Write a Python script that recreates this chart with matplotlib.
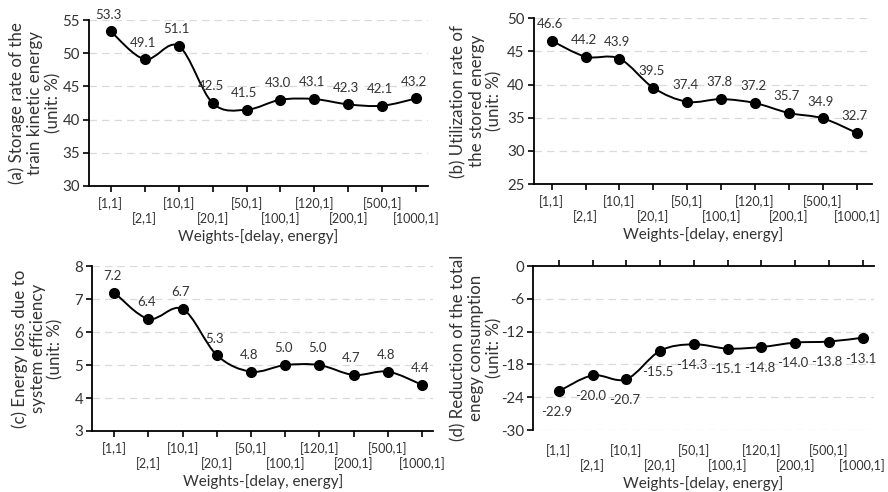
import numpy as np
import matplotlib.pyplot as plt
from matplotlib.path import Path
from matplotlib.patches import PathPatch

# weights [delay, energy]
weights = ['[1,1]', '[2,1]', '[10,1]', '[20,1]', '[50,1]',
           '[100,1]', '[120,1]', '[200,1]', '[500,1]', '[1000,1]']

storage_rate = [53.3, 49.1, 51.1, 42.5, 41.5, 43.0, 43.1, 42.3, 42.1, 43.2]
utilization_rate = [46.6, 44.2, 43.9, 39.5, 37.4, 37.8, 37.2, 35.7, 34.9, 32.7]
energy_loss = [7.2, 6.4, 6.7, 5.3, 4.8, 5.0, 5.0, 4.7, 4.8, 4.4]
reduction = [-22.9, -20.0, -20.7, -15.5, -14.3, -15.1, -14.8, -14.0, -13.8, -13.1]

plt.rcParams['font.family'] = ['Lato', 'DejaVu Sans']
TXT = '#333333'


def smooth_path(x, y):
    # Excel-like smoothed line: cubic bezier segments (Catmull-Rom)
    x = np.asarray(x, float)
    y = np.asarray(y, float)
    px = np.concatenate([[x[0]], x, [x[-1]]])
    py = np.concatenate([[y[0]], y, [y[-1]]])
    verts = [(x[0], y[0])]
    codes = [Path.MOVETO]
    for i in range(len(x) - 1):
        c1 = (x[i] + (px[i + 2] - px[i]) / 6, y[i] + (py[i + 2] - py[i]) / 6)
        c2 = (x[i + 1] - (px[i + 3] - px[i + 1]) / 6, y[i + 1] - (py[i + 3] - py[i + 1]) / 6)
        verts += [c1, c2, (x[i + 1], y[i + 1])]
        codes += [Path.CURVE4] * 3
    return Path(verts, codes)


def panel(rect, values, ylim, yticks, ylabel, xlim, label_x, below=False):
    ax = fig.add_axes(rect)
    x = np.arange(len(values))
    ax.add_patch(PathPatch(smooth_path(x, values), fill=False, lw=1.4, color='black', zorder=3))
    ax.plot(x, values, 'o', color='black', ms=7, zorder=4)
    for xi, v in zip(x, values):
        ax.annotate(f'{v:.1f}', (xi, v), xytext=(-1.5, -15 if below else 12),
                    textcoords='offset points', ha='center', va='center',
                    fontsize=9.5, color=TXT)
    ax.set_xlim(*xlim)
    ax.set_ylim(*ylim)
    ax.set_yticks(yticks)
    ax.set_yticklabels([f'{t:g}' for t in yticks])
    ax.set_xticks(x[::2])
    ax.set_xticklabels(weights[::2])
    ax.set_xticks(x[1::2], minor=True)
    ax.set_xticklabels(weights[1::2], minor=True)
    grid = yticks if below else yticks[1:]
    for t in grid:
        if below and t == yticks[-1]:
            continue
        ax.axhline(t, color='#dadada', lw=0.9, ls=(0, (6, 4)), zorder=1)
    ax.spines['right'].set_visible(False)
    ax.spines['left'].set_linewidth(1.3)
    ax.tick_params(axis='y', direction='out', length=4, width=1.2, labelsize=10.8,
                   labelcolor=TXT, pad=2.5)
    ax.tick_params(axis='x', which='both', direction='out', length=4, width=1.2,
                   labelsize=9, labelcolor=TXT)
    ax.tick_params(axis='x', which='major', pad=4)
    ax.tick_params(axis='x', which='minor', pad=15)
    if below:
        ax.spines['bottom'].set_visible(False)
        ax.spines['top'].set_linewidth(1.3)
        ax.tick_params(axis='x', which='both', bottom=False, top=True,
                       labelbottom=True, labeltop=False)
        ax.tick_params(axis='x', which='major', pad=6)
        ax.tick_params(axis='x', which='minor', pad=17)
    else:
        ax.spines['top'].set_visible(False)
        ax.spines['bottom'].set_linewidth(1.3)
    ax.text(label_x, 0.5, ylabel, transform=ax.transAxes, rotation=90,
            ha='center', va='center', ma='center', fontsize=12.2, color=TXT,
            linespacing=1.15)
    ax.set_xlabel('Weights-[delay, energy]', fontsize=11, color=TXT, labelpad=3)
    return ax


fig = plt.figure(figsize=(8.88, 4.92), dpi=100)

panel([0.100, 0.622, 0.382, 0.337], storage_rate, (30, 55), [30, 35, 40, 45, 50, 55],
      '(a) Storage rate of the\ntrain kinetic energy\n(unit: %)', (-0.65, 9.35), -0.159)
panel([0.601, 0.626, 0.381, 0.337], utilization_rate, (25, 50), [25, 30, 35, 40, 45, 50],
      '(b) Utilization rate of\nthe stored energy\n(unit: %)', (-0.53, 9.45), -0.169)
panel([0.104, 0.124, 0.384, 0.335], energy_loss, (3, 8), [3, 4, 5, 6, 7, 8],
      '(c) Energy loss due to\nsystem efficiency\n(unit: %)', (-0.64, 9.33), -0.161)
panel([0.600, 0.126, 0.384, 0.333], reduction, (-30, 0), [-30, -24, -18, -12, -6, 0],
      '(d) Reduction of the total\nenegy consumption\n(unit: %)', (-0.77, 9.33), -0.166,
      below=True)

fig.savefig('out.png', dpi=100)
